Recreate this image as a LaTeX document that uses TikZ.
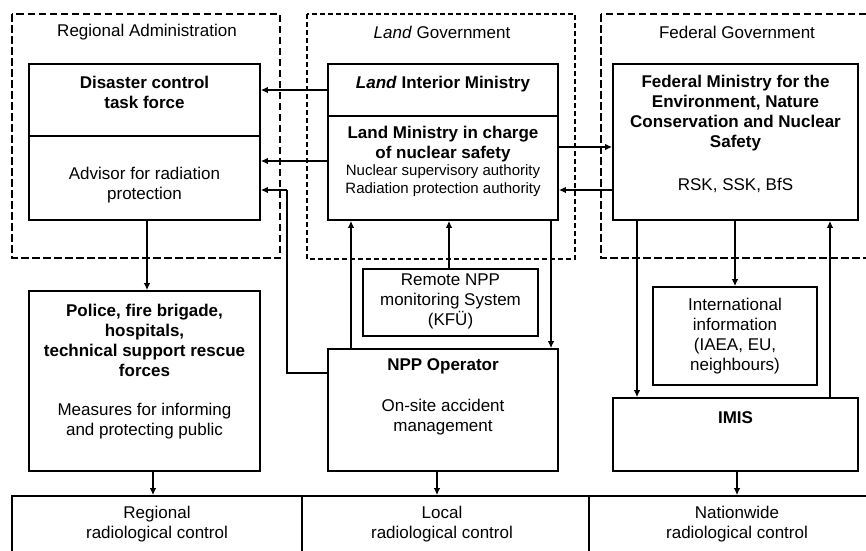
\documentclass[tikz,border=0pt]{standalone}
\usepackage{fontspec}
\setmainfont{Liberation Sans}
\usetikzlibrary{arrows.meta}

\begin{document}
\begin{tikzpicture}[x=1pt,y=-1pt,>={Latex[length=7pt,width=6.5pt]},
  group/.style={line width=2.8pt,dash pattern=on 7.5pt off 3.5pt},
  landgroup/.style={line width=1.5pt,dash pattern=on 5pt off 3pt},
  box/.style={draw,line width=1.6pt,inner sep=0pt},
  txt/.style={align=center,inner sep=0pt,font=\fontsize{17}{20}\selectfont},
  smalltxt/.style={align=center,inner sep=0pt,font=\fontsize{15}{18}\selectfont},
  flow/.style={->,line width=2.3pt},
  link/.style={line width=1.6pt}]
 \useasboundingbox (0,0) rectangle (866,550);
 \clip (0,0) rectangle (866,550);

 % dashed groups
 \draw[group]     (12,14)  rectangle (280,258);
 \draw[landgroup] (307,14) rectangle (575,259);
 \draw[group]     (601,14) rectangle (880,258);
 \node[txt] (regtitle)  at (147,32) {Regional Administration};
 \node[txt] (landtitle) at (442,32) {\textit{Land} Government};
 \node[txt] (fedtitle)  at (737,32) {Federal Government};

 % boxes
 \node[box,minimum width=231pt,minimum height=72pt]  (task)     at (144.5,100) {};
 \node[box,minimum width=231pt,minimum height=84pt]  (advisor)  at (144.5,178) {};
 \node[box,minimum width=230pt,minimum height=52pt]  (interior) at (443,90)    {};
 \node[box,minimum width=230pt,minimum height=104pt] (ministry) at (443,168)   {};
 \node[box,minimum width=245pt,minimum height=156pt] (federal)  at (735.5,142) {};
 \node[box,minimum width=231pt,minimum height=180pt] (police)   at (144.5,381) {};
 \node[box,minimum width=175pt,minimum height=67pt]  (kfu)      at (450.5,302.5) {};
 \node[box,minimum width=230pt,minimum height=122pt] (operator) at (443,410)   {};
 \node[box,minimum width=164pt,minimum height=98pt]  (intl)     at (735,336)   {};
 \node[box,minimum width=245pt,minimum height=73pt]  (imis)     at (735.5,434.5) {};
 \node[box,minimum width=290pt,minimum height=70pt]  (regional) at (157,531)   {};
 \node[box,minimum width=287pt,minimum height=70pt]  (local)    at (445.5,531) {};
 \node[box,minimum width=291pt,minimum height=70pt]  (nation)   at (734.5,531) {};

 % texts
 \node[txt] (tasktxt)    at (144.5,92)  {\bfseries Disaster control\\\bfseries task force};
 \node[txt] (advisortxt) at (144.5,185) {Advisor for radiation\\protection};
 \node[txt] (interiortxt) at (443,84)   {\bfseries\textit{Land} Interior Ministry};
 \node[txt] (ministrytxt) at (443,144)  {\bfseries Land Ministry in charge\\\bfseries of nuclear safety};
 \node[smalltxt] (authtxt) at (443,181) {Nuclear supervisory authority\\Radiation protection authority};
 \node[txt] (federaltxt) at (735.5,113) {\bfseries Federal Ministry for the\\\bfseries Environment, Nature\\\bfseries Conservation and Nuclear\\\bfseries Safety};
 \node[txt] (bodiestxt)  at (735.5,185) {RSK, SSK, BfS};
 \node[txt] (policetxt)  at (144.5,340) {\bfseries Police, fire brigade,\\\bfseries hospitals,\\\bfseries technical support rescue\\\bfseries forces};
 \node[txt] (publictxt)  at (144.5,421) {Measures for informing\\and protecting public};
 \node[txt] (kfutxt)     at (450.5,301) {Remote NPP\\monitoring System\\(KFÜ)};
 \node[txt] (operatortxt) at (443,366)  {\bfseries NPP Operator};
 \node[txt] (onsitetxt)  at (443,417)   {On-site accident\\management};
 \node[txt] (intltxt)    at (735,336)   {International\\information\\(IAEA, EU,\\neighbours)};
 \node[txt] (imistxt)    at (735.5,418) {\bfseries IMIS};
 \node[txt] (regionaltxt) at (157,524)  {Regional\\radiological control};
 \node[txt] (localtxt)   at (442,524)   {Local\\radiological control};
 \node[txt] (nationtxt)  at (737,524)   {Nationwide\\radiological control};

 % connectors
 \coordinate (bend) at (287,373);
 \draw[flow] (interior.west) -- (interior.west -| task.east);
 \draw[flow] (ministry.west |- 0,161) -- (advisor.east |- 0,161);
 \draw[flow] (ministry.east |- 0,147) -- (federal.west |- 0,147);
 \draw[flow] (federal.west |- 0,190) -- (ministry.east |- 0,190);
 \draw[link] (operator.west |- bend) -- (bend) -- (bend |- 0,190);
 \draw[flow] (bend |- 0,190) -- (advisor.east |- 0,190);
 \draw[flow] (advisor.south -| 147,0) -- (police.north -| 147,0);
 \draw[flow] (police.south -| 153,0) -- (regional.north -| 153,0);
 \draw[flow] (operator.north -| 351,0) -- (ministry.south -| 351,0);
 \draw[flow] (kfu.north -| 449,0) -- (ministry.south -| 449,0);
 \draw[flow] (ministry.south -| 551,0) -- (operator.north -| 551,0);
 \draw[flow] (operator.south -| 437,0) -- (local.north -| 437,0);
 \draw[flow] (federal.south -| 637,0) -- (imis.north -| 637,0);
 \draw[flow] (federal.south -| intl.north) -- (intl.north);
 \draw[flow] (imis.north -| 830,0) -- (federal.south -| 830,0);
 \draw[flow] (imis.south -| 737,0) -- (nation.north -| 737,0);
\end{tikzpicture}
\end{document}
